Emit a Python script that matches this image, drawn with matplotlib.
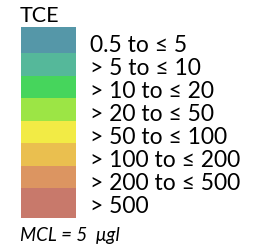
"""TCE concentration legend."""
import matplotlib.pyplot as plt

TITLE = "TCE"
CLASS_LABELS = ["0.5 to \u2264 5", "> 5 to \u2264 10", "> 10 to \u2264 20", "> 20 to \u2264 50",
                "> 50 to \u2264 100", "> 100 to \u2264 200", "> 200 to \u2264 500", "> 500"]
CLASS_COLORS = ["#5597A8", "#55B89A", "#46D55C", "#9CE545",
                "#F2EB45", "#EABF4F", "#DC9561", "#C8796B"]
NOTE = "MCL = 5  \u03bcgl"

# band edges in pixels (top to bottom)
EDGES = [27, 53, 76, 98, 121, 143, 166, 188, 218]
TEXT_Y = [45, 68, 91, 114, 137, 160, 183, 206]


def main():
    fig = plt.figure(figsize=(2.61, 2.49), dpi=100)
    ax = fig.add_axes([0, 0, 1, 1])
    ax.set_xlim(0, 261)
    ax.set_ylim(249, 0)
    ax.axis('off')

    tops = EDGES[:-1]
    heights = [b - t for t, b in zip(EDGES[:-1], EDGES[1:])]
    ax.bar([21] * len(tops), heights, width=55, bottom=tops, align='edge',
           color=CLASS_COLORS, linewidth=0)

    for lab, y in zip(CLASS_LABELS, TEXT_Y):
        ax.text(90, y, lab, fontsize=16.5, family='Lato', va='center', ha='left')

    ax.text(20, 16, TITLE, fontsize=15.5, family='Lato', va='center', ha='left')
    ax.text(20, 235, NOTE, fontsize=13.5, family='Lato', style='italic',
            va='center', ha='left')

    fig.savefig("out.png", dpi=100)
    plt.close(fig)


if __name__ == "__main__":
    main()
